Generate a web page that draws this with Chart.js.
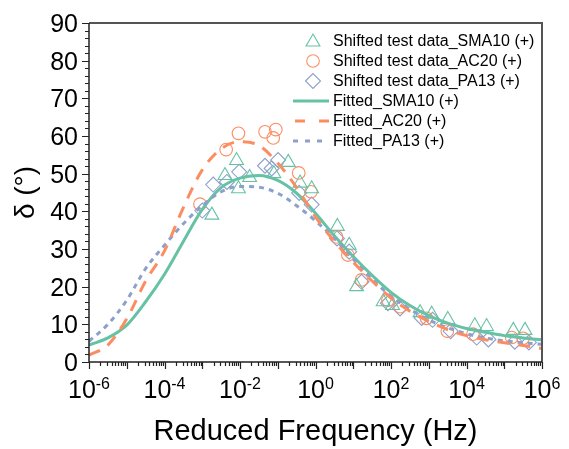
<!DOCTYPE html>
<html><head><meta charset="utf-8">
<script src="https://cdn.jsdelivr.net/npm/chart.js@4.4.0/dist/chart.umd.min.js"></script>
<style>html,body{margin:0;padding:0;background:#fff}#wrap{width:569px;height:449px}</style>
</head><body><div id="wrap"><canvas id="c" width="569" height="449"></canvas></div>
<script>
// ---- data ----
const seriesLabels = ['Shifted test data_SMA10 (+)','Shifted test data_AC20 (+)','Shifted test data_PA13 (+)',
                      'Fitted_SMA10 (+)','Fitted_AC20 (+)','Fitted_PA13 (+)'];
const smaFreq  = [1.8e-3,4.0e-3,8.1e-3,9.1e-3,1.8e-2,7.9e-2,0.19,0.39,0.79,3.8,7.8,12.3,62,110,590,1200,3200,16600,34000,174000,355000];
const smaDelta = [39,49.5,53.5,46,49,50,53,47.5,46,36,31,20,16,15,13.1,12.7,11.3,9.6,9.4,8.4,8.4];
const acFreq   = [8.7e-4,4.3e-3,9.1e-3,4.6e-2,7.6e-2,8.9e-2,0.36,0.76,3.6,7.2,16.6,83,174,870,3100,14800,158000,316000];
const acDelta  = [41.9,56.4,60.7,61.1,59.5,61.7,50.2,45.2,33.2,28.4,21.8,16.4,14.7,11.6,8.2,7.4,6.5,6.3];
const paFreq   = [1.0e-3,1.95e-3,4.5e-3,9.5e-3,4.6e-2,6.9e-2,0.102,0.37,0.79,3.7,7.8,16.6,83,174,650,1260,3800,18600,38000,190000,450000];
const paDelta  = [40.2,47.1,47.8,50.5,52.1,51.4,53.6,44.9,41.8,32.8,29.3,21.3,15.6,14.2,11.7,11.2,8.2,6.5,6.0,5.4,5.2];
const fitFreq  = [1e-6,3.16e-6,1e-5,3.16e-5,1e-4,3.16e-4,1e-3,3.16e-3,1e-2,3.16e-2,1e-1,3.16e-1,1,
                  3.16,10,31.6,100,316,1000,3160,1e4,3.16e4,1e5,3.16e5,1e6];
const fitSMA   = [4.5,6.4,9.8,16,23.3,32,40.5,46.3,48.8,49.5,48.2,44.8,39.5,33.5,28,23,18.5,15,12.3,10.3,8.9,7.9,7.0,6.4,5.9];
const fitAC    = [1.8,4.5,11.5,21.5,29.5,41,51,56.6,58.5,57.5,52.8,46.3,38.5,32,26.5,21.5,17,13.5,10.8,8.6,7.0,5.9,5.1,4.4,3.6];
const fitPA    = [5.5,10,16.4,24.8,31,36.7,41.5,45.2,46.6,46.4,44.8,41.5,37.5,32.8,27.3,22,17.5,14,11.2,9.1,7.5,6.4,5.6,5.1,4.7];
const xTickExponents = [-6,-4,-2,0,2,4,6];
const yTickValues = [0,10,20,30,40,50,60,70,80,90];
const xTitle = 'Reduced Frequency (Hz)';
const yTitle = 'δ (°)';

const GREEN = '#66c2a5', ORANGE = '#fc8d62', BLUE = '#8da0cb';
const FONT = '"Liberation Sans", Arial, Helvetica, sans-serif';

function pts(xs, ys){ return xs.map((x,i)=>({x, y: ys[i]})); }

function drawMarker(ctx, style, x, y, r, color){
  ctx.save(); ctx.strokeStyle=color; ctx.lineWidth=1.1; ctx.beginPath();
  if(style==='triangle'){
    for(let k=0;k<3;k++){const a=k*2*Math.PI/3; const px=x+Math.sin(a)*r, py=y-Math.cos(a)*r; k?ctx.lineTo(px,py):ctx.moveTo(px,py);} ctx.closePath();
  } else if(style==='circle'){ ctx.arc(x,y,r,0,2*Math.PI); }
  else { ctx.moveTo(x-r,y); ctx.lineTo(x,y-r); ctx.lineTo(x+r,y); ctx.lineTo(x,y+r); ctx.closePath(); }
  ctx.stroke(); ctx.restore();
}

const axesPlugin = {
  id:'axesPlugin',
  afterDraw(chart){
    const {ctx, chartArea:a, scales:{x,y}} = chart;
    ctx.save();
    // frame
    ctx.strokeStyle='#555'; ctx.lineWidth=2;
    ctx.beginPath(); ctx.moveTo(a.left,a.top); ctx.lineTo(a.right,a.top); ctx.lineTo(a.right,a.bottom); ctx.stroke();
    ctx.strokeStyle='#222'; ctx.lineWidth=1.5;
    ctx.beginPath(); ctx.moveTo(a.left,a.top); ctx.lineTo(a.left,a.bottom); ctx.lineTo(a.right,a.bottom); ctx.stroke();
    // y ticks
    ctx.lineWidth=1.2; ctx.strokeStyle='#222';
    ctx.beginPath();
    for(let v=yTickValues[0]; v<=yTickValues[yTickValues.length-1]; v+=2){
      const py=Math.round(y.getPixelForValue(v))+0.5; const len=(v%10===0)?7:4;
      ctx.moveTo(a.left-len,py); ctx.lineTo(a.left,py);
    }
    // x ticks
    for(let e=xTickExponents[0]; e<=xTickExponents[xTickExponents.length-1]; e++){
      for(let m=1;m<=9;m++){
        const f=m*Math.pow(10,e); if(f>1e6*1.0001) break;
        const px=Math.round(x.getPixelForValue(f))+0.5; const len=(m===1)?7:4;
        ctx.moveTo(px,a.bottom); ctx.lineTo(px,a.bottom+len);
      }
    }
    ctx.stroke();
    // y labels
    ctx.fillStyle='#000'; ctx.font='25px '+FONT; ctx.textAlign='right'; ctx.textBaseline='alphabetic';
    yTickValues.forEach(v=>{ const py=y.getPixelForValue(v); ctx.fillText(String(v), a.left-11, py+9); });
    // x labels with superscripts
    xTickExponents.forEach(e=>{
      const px=x.getPixelForValue(Math.pow(10,e));
      ctx.font='25px '+FONT; const w1=ctx.measureText('10').width;
      ctx.font='16px '+FONT; const sup=String(e); const w2=ctx.measureText(sup).width;
      const x0=px-(w1+w2)/2;
      ctx.textAlign='left';
      ctx.font='25px '+FONT; ctx.fillText('10', x0, a.bottom+36);
      ctx.font='16px '+FONT; ctx.fillText(sup, x0+w1, a.bottom+27);
    });
    // titles
    ctx.font='29px '+FONT; ctx.textAlign='center';
    ctx.fillText(xTitle, (a.left+a.right)/2, a.bottom+78);
    ctx.save(); ctx.translate(34,(a.top+a.bottom)/2); ctx.rotate(-Math.PI/2);
    ctx.font='28px '+FONT;
    ctx.fillText(yTitle, 0, 0); ctx.restore();
    // legend
    const lx=a.right-229, tx=a.right-209; let ly=a.top+18;
    ctx.font='16px '+FONT; ctx.textAlign='left'; ctx.textBaseline='middle';
    chart.data.datasets.forEach((ds,i)=>{
      const yy=ly+i*20;
      if(ds.showLine){
        ctx.save(); ctx.strokeStyle=ds.borderColor; ctx.lineWidth=3;
        ctx.setLineDash(ds.legendDash||[]);
        ctx.beginPath(); ctx.moveTo(ds.legendStart, yy); ctx.lineTo(ds.legendEnd, yy); ctx.stroke(); ctx.restore();
      } else {
        drawMarker(ctx, ds.pointStyle, lx, yy+(ds.pointStyle==='triangle'?1:0), ds.pointRadius, ds.borderColor);
      }
      ctx.fillStyle='#000'; ctx.fillText(ds.label, tx, yy+1);
    });
    ctx.restore();
  }
};

const datasets = [
  {label:seriesLabels[0], data:pts(smaFreq,smaDelta), pointStyle:'triangle', pointRadius:8, borderColor:GREEN, backgroundColor:'rgba(0,0,0,0)', borderWidth:1.1, showLine:false, order:2},
  {label:seriesLabels[1], data:pts(acFreq,acDelta), pointStyle:'circle', pointRadius:6.3, borderColor:ORANGE, backgroundColor:'rgba(0,0,0,0)', borderWidth:1.1, showLine:false, order:2},
  {label:seriesLabels[2], data:pts(paFreq,paDelta), pointStyle:'rectRot', pointRadius:7.5, borderColor:BLUE, backgroundColor:'rgba(0,0,0,0)', borderWidth:1.1, showLine:false, order:2},
  {label:seriesLabels[3], data:pts(fitFreq,fitSMA), showLine:true, pointRadius:0, borderColor:GREEN, borderWidth:3, cubicInterpolationMode:'monotone', order:1, legendStart:293, legendEnd:329},
  {label:seriesLabels[4], data:pts(fitFreq,fitAC), showLine:true, pointRadius:0, borderColor:ORANGE, borderWidth:3, borderDash:[12,9], cubicInterpolationMode:'monotone', order:0, legendDash:[10,14], legendStart:295, legendEnd:330},
  {label:seriesLabels[5], data:pts(fitFreq,fitPA), showLine:true, pointRadius:0, borderColor:BLUE, borderWidth:3, borderDash:[5,5], cubicInterpolationMode:'monotone', order:0, legendDash:[5,7], legendStart:293, legendEnd:323}
];

new Chart(document.getElementById('c'), {
  type:'scatter',
  data:{datasets},
  options:{
    responsive:false, animation:false, devicePixelRatio:1,
    layout:{padding:{top:23,right:27,left:0,bottom:0}},
    plugins:{legend:{display:false}, tooltip:{enabled:false}},
    scales:{
      x:{type:'logarithmic', min:1e-6, max:1e6, ticks:{display:false}, grid:{display:false, drawTicks:false}, border:{display:false},
         afterFit(s){ s.height=87; }},
      y:{min:0, max:90, ticks:{display:false}, grid:{display:false, drawTicks:false}, border:{display:false},
         afterFit(s){ s.width=89; }}
    }
  },
  plugins:[axesPlugin]
});
</script></body></html>
